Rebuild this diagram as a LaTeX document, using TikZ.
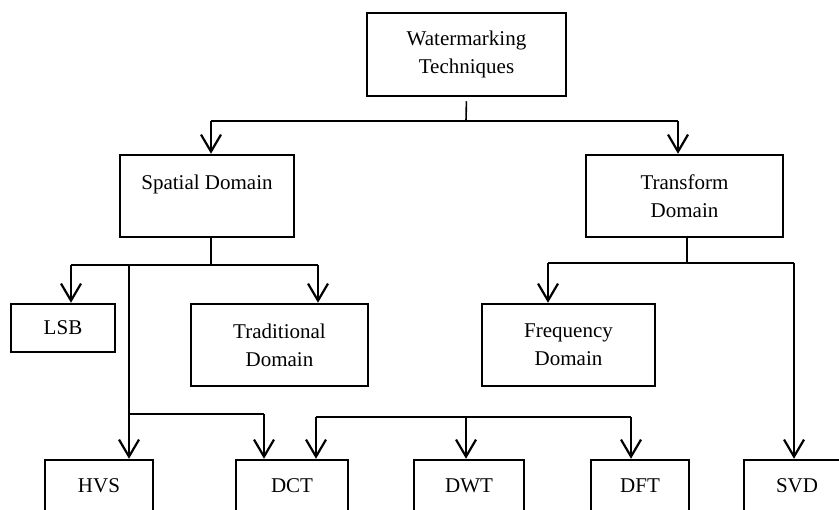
\documentclass[tikz,border=0pt]{standalone}
\usepackage{fontspec}
\setmainfont{Liberation Serif}
\usetikzlibrary{arrows.meta}

\begin{document}
\begin{tikzpicture}[x=0.5pt,y=-0.5pt,
  box/.style={draw,line width=1.25pt,inner sep=0pt,align=center,
    font=\fontsize{10.5}{14}\selectfont},
  link/.style={line width=0.8pt},
  linkarrow/.style={line width=1.1pt,
    -{Straight Barb[length=8.5pt,width=10pt,line width=1.1pt]}}]

\useasboundingbox (0,0) rectangle (839,509);
\clip (0,0) rectangle (839,509);

\node[box,minimum width=99.5pt,minimum height=41.5pt] (wt) at (466.5,54.5) {Watermarking\\Techniques};
\node[box,minimum width=87pt,minimum height=41pt] (spatial) at (207,196) {Spatial Domain\\\mbox{}};
\node[box,minimum width=98.5pt,minimum height=41pt] (transform) at (684.5,196) {Transform\\Domain};
\node[box,minimum width=52pt,minimum height=24pt] (lsb) at (63,328) {LSB};
\node[box,minimum width=88.5pt,minimum height=41pt] (trad) at (279.5,345) {Traditional\\Domain};
\node[box,minimum width=86.5pt,minimum height=41pt] (freq) at (568.5,345) {Frequency\\Domain};
\node[box,minimum width=54pt,minimum height=26pt] (hvs) at (99,486) {HVS};
\node[box,minimum width=56pt,minimum height=26pt] (dct) at (292,486) {DCT};
\node[box,minimum width=55pt,minimum height=26pt] (dwt) at (469,486) {DWT};
\node[box,minimum width=49pt,minimum height=26pt] (dft) at (640,486) {DFT};
\node[box,minimum width=53pt,minimum height=26pt] (svd) at (797,486) {SVD};

% top level
\coordinate (wtJ) at (466,121);
\coordinate (wtL) at (211,121);
\coordinate (wtR) at (678,121);
\draw[link,shorten <=2pt] (wt.south) -- (wtJ);
\draw[link] (wtL) -- (wtR);
\draw[linkarrow] (wtL) -- (spatial.north -| wtL);
\draw[linkarrow] (wtR) -- (transform.north -| wtR);

% spatial domain
\coordinate (spJ) at (211,265);
\coordinate (spL) at (71,265);
\coordinate (spR) at (318,265);
\coordinate (hvsTop) at (129,266);
\coordinate (hvsJ) at (129,414);
\coordinate (dctL) at (264,414);
\draw[link] (spatial.south -| spJ) -- (spJ);
\draw[link] (spL) -- (spR);
\draw[linkarrow] (spL) -- (lsb.north -| spL);
\draw[linkarrow] (spR) -- (trad.north -| spR);
\draw[linkarrow] (hvsTop) -- (hvs.north -| hvsTop);
\draw[link] (hvsJ) -- (dctL);
\draw[linkarrow] (dctL) -- (dct.north -| dctL);

% bus to DCT, DWT, DFT
\coordinate (busL) at (316,417);
\coordinate (busM) at (466,417);
\coordinate (busR) at (631,417);
\draw[link] (busL) -- (busR);
\draw[linkarrow] (busL) -- (dct.north -| busL);
\draw[linkarrow] (busM) -- (dwt.north -| busM);
\draw[linkarrow] (busR) -- (dft.north -| busR);

% transform domain
\coordinate (tfJ) at (687,263);
\coordinate (tfL) at (548,263);
\coordinate (tfR) at (794,263);
\draw[link] (transform.south -| tfJ) -- (tfJ);
\draw[link] (tfL) -- (tfR);
\draw[linkarrow] (tfL) -- (freq.north -| tfL);
\draw[linkarrow] (tfR) -- (svd.north -| tfR);
\end{tikzpicture}
\end{document}
